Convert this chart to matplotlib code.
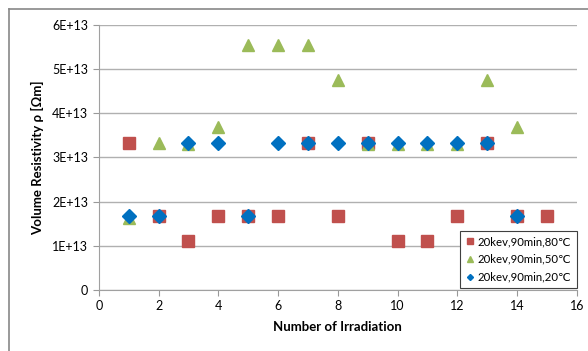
import matplotlib
matplotlib.use('Agg')
import matplotlib.pyplot as plt

plt.rcParams['font.family'] = ['Lato', 'DejaVu Sans']

# data
irradiation = list(range(1, 16))
res_80 = [3.33e13, 1.67e13, 1.1e13, 1.67e13, 1.67e13, 1.67e13, 3.33e13, 1.67e13,
          3.33e13, 1.1e13, 1.1e13, 1.67e13, 3.33e13, 1.67e13, 1.67e13]
irr_50 = list(range(1, 15))
res_50 = [1.63e13, 3.33e13, 3.3e13, 3.7e13, 5.55e13, 5.55e13, 5.55e13, 4.76e13,
          3.3e13, 3.3e13, 3.3e13, 3.3e13, 4.76e13, 3.7e13]
irr_20 = list(range(1, 15))
res_20 = [1.67e13, 1.67e13, 3.33e13, 3.33e13, 1.67e13, 3.33e13, 3.33e13, 3.33e13,
          3.33e13, 3.33e13, 3.33e13, 3.33e13, 3.33e13, 1.67e13]

y_ticks = [0, 1e13, 2e13, 3e13, 4e13, 5e13, 6e13]
y_labels = ['0', '1E+13', '2E+13', '3E+13', '4E+13', '5E+13', '6E+13']
x_ticks = [0, 2, 4, 6, 8, 10, 12, 14, 16]

fig = plt.figure(figsize=(5.88, 3.51), dpi=100)
ax = fig.add_axes([0.168, 0.174, 0.813, 0.755])

ax.plot(irradiation, res_80, 's', color='#C0504D', markersize=8.3, label='20kev,90min,80\u2103')
ax.plot(irr_50, res_50, '^', color='#9BBB59', markersize=8.3, label='20kev,90min,50\u2103')
ax.plot(irr_20, res_20, 'D', color='#0070C0', markersize=6.8, label='20kev,90min,20\u2103')

ax.set_xlim(0, 16)
ax.set_ylim(0, 6e13)
ax.set_xticks(x_ticks)
ax.set_yticks(y_ticks)
ax.set_yticklabels(y_labels)
ax.tick_params(labelsize=9, color='#999999', length=4, direction='out')
ax.grid(axis='y', color='#b0b0b0', linewidth=1)
ax.set_axisbelow(True)
for side in ['top', 'right']:
    ax.spines[side].set_visible(False)
for side in ['left', 'bottom']:
    ax.spines[side].set_color('#a0a0a0')

ax.set_xlabel('Number of Irradiation', fontsize=9.5, fontweight='bold', labelpad=6)
ax.set_ylabel('Volume Resistivity \u03c1 [\u03a9m]', fontsize=9.5, fontweight='bold', labelpad=6)

leg = ax.legend(loc='lower right', bbox_to_anchor=(1.0, 0.008), fontsize=8.2, markerscale=0.45,
                handlelength=0.8, handletextpad=0.3, labelspacing=0.6, borderpad=0.45,
                fancybox=False, framealpha=1, borderaxespad=0)
leg.get_frame().set_edgecolor('#404040')
leg.get_frame().set_linewidth(0.8)

# chart area border (only top and left visible in the crop)
fig.add_artist(plt.Line2D([9/588, 1], [1 - 8.5/351, 1 - 8.5/351], color='#888888', linewidth=1.2))
fig.add_artist(plt.Line2D([9/588, 9/588], [0, 1 - 8.5/351], color='#888888', linewidth=1.2))

fig.savefig('out.png', dpi=100)
